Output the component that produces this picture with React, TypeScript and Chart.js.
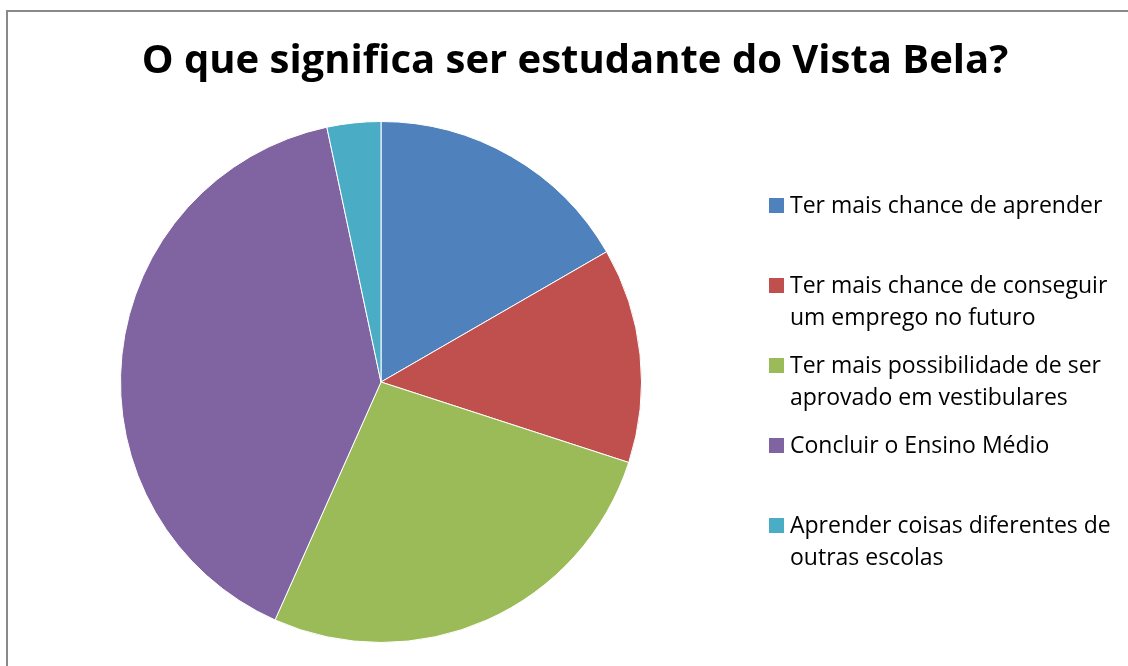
import React, { useEffect, useRef } from "react";
import { Chart, registerables } from "chart.js";

Chart.register(...registerables);

const titleText = "O que significa ser estudante do Vista Bela?";
const categories = [
  "Ter mais chance de aprender",
  "Ter mais chance de conseguir um emprego no futuro",
  "Ter mais possibilidade de ser aprovado em vestibulares",
  "Concluir o Ensino Médio",
  "Aprender coisas diferentes de outras escolas",
];
const legendLines = [
  ["Ter mais chance de aprender"],
  ["Ter mais chance de conseguir", "um emprego no futuro"],
  ["Ter mais possibilidade de ser", "aprovado em vestibulares"],
  ["Concluir o Ensino Médio"],
  ["Aprender coisas diferentes de", "outras escolas"],
];
const values = [5, 4, 8, 12, 1];
const colors = ["#4F81BD", "#C0504D", "#9BBB59", "#8064A2", "#4BACC6"];

const FONT = "'Open Sans', 'Noto Sans', sans-serif";

export default function App() {
  const canvasRef = useRef<HTMLCanvasElement | null>(null);

  useEffect(() => {
    const canvas = canvasRef.current;
    if (!canvas) return;
    const chart = new Chart(canvas, {
      type: "pie",
      data: {
        labels: categories,
        datasets: [
          {
            data: values,
            backgroundColor: colors,
            borderColor: "#ffffff",
            borderWidth: 1,
          },
        ],
      },
      options: {
        animation: false,
        responsive: false,
        maintainAspectRatio: false,
        layout: { padding: { left: 120, top: 121, right: 486, bottom: 23 } },
        plugins: {
          legend: { display: false },
          title: { display: false },
          tooltip: { enabled: false },
        },
      },
    });
    return () => chart.destroy();
  }, []);

  return (
    <div
      style={{
        position: "fixed",
        left: 0,
        top: 0,
        width: 1128,
        height: 666,
        background: "#ffffff",
        overflow: "hidden",
        fontFamily: FONT,
      }}
    >
      <div
        style={{
          position: "absolute",
          left: 6,
          top: 10,
          width: 1140,
          height: 680,
          border: "2px solid #898989",
          boxSizing: "border-box",
        }}
      />
      <canvas
        ref={canvasRef}
        width={1128}
        height={666}
        style={{ position: "absolute", left: 0, top: 0, width: 1128, height: 666 }}
      />
      <div
        style={{
          position: "absolute",
          left: 0,
          width: 1150,
          top: 38,
          textAlign: "center",
          fontSize: 40,
          lineHeight: "40px",
          fontWeight: 700,
          color: "#000",
          whiteSpace: "nowrap",
        }}
      >
        {titleText}
      </div>
      {legendLines.map((lines, i) => (
        <div
          key={i}
          style={{
            position: "absolute",
            left: 769,
            top: 188 + i * 80,
            display: "flex",
            alignItems: "flex-start",
          }}
        >
          <div
            style={{
              width: 15,
              height: 15,
              background: colors[i],
              marginTop: 10,
              marginRight: 6,
              flex: "none",
            }}
          />
          <div style={{ fontSize: 23, lineHeight: "32px", color: "#000", whiteSpace: "nowrap" }}>
            {lines.map((l, j) => (
              <div key={j}>{l}</div>
            ))}
          </div>
        </div>
      ))}
    </div>
  );
}
